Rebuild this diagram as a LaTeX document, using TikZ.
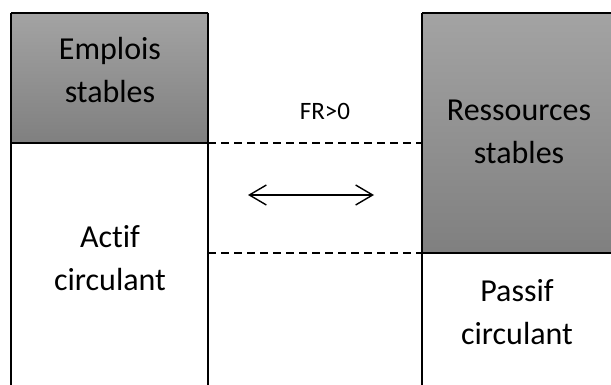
\documentclass[tikz,border=0pt]{standalone}
\usepackage{fontspec}
\setmainfont{Carlito}[Ligatures=NoCommon]
\usetikzlibrary{arrows.meta}
\begin{document}
\begin{tikzpicture}[x=1pt,y=-1pt,
  label31/.style={font=\fontsize{32}{43}\selectfont, align=center, inner sep=0pt},
  label20/.style={font=\fontsize{25}{30}\selectfont, inner sep=0pt},
  wall/.style={line width=2pt, black},
  rim/.style={line width=1.6pt, black},
  gap/.style={line width=1.4pt, dash pattern=on 8pt off 5pt},
  stableshade/.style={top color=black!36, bottom color=black!50, draw=none}]
\useasboundingbox (0,0) rectangle (611,385);

% upper stable blocks (shaded)
\shade[stableshade] (11,13) rectangle (208,143);
\shade[stableshade] (422,13) rectangle (612,253);

% left column: Emplois stables over Actif circulant
\coordinate (lt) at (11,13);
\coordinate (rt) at (208,13);
\coordinate (lm) at (11,143);
\coordinate (rm) at (208,143);
\coordinate (lb) at (11,385);
\coordinate (rb) at (208,385);
\draw[rim] (lt) -- (rt);
\draw[wall] (lt) -- (lb);
\draw[wall] (rt) -- (rb);
\draw[rim] (lm) -- (rm);

% right column: Ressources stables over Passif circulant
\coordinate (Lt) at (422,13);
\coordinate (Rt) at (612,13);
\coordinate (Lm) at (422,253);
\coordinate (Rm) at (612,253);
\coordinate (Lb) at (422,385);
\draw[rim] (Lt) -- (Rt);
\draw[wall] (Lt) -- (Lb);
\draw[rim] (Lm) -- (Rm);

% dashed level guides
\draw[gap] (rm) -- (Lm |- rm);
\draw[gap] (rm |- Lm) -- (Lm);

% texts
\node[label31] (emplois) at (110,70) {Emplois\\stables};
\node[label31] (actif) at (110,258) {Actif\\circulant};
\node[label31] (ressources) at (519,132) {Ressources\\stables};
\node[label31] (passif) at (517,312) {Passif\\circulant};
\node[label20] (fr) at (325,111) {FR>0};

% double arrow
\coordinate (aL) at (248,195);
\coordinate (aR) at (374,195);
\draw[line width=1.4pt, {Straight Barb[length=17pt,width=20pt,line width=1.4pt]}-{Straight Barb[length=17pt,width=20pt,line width=1.4pt]}] (aL) -- (aR);
\end{tikzpicture}
\end{document}
